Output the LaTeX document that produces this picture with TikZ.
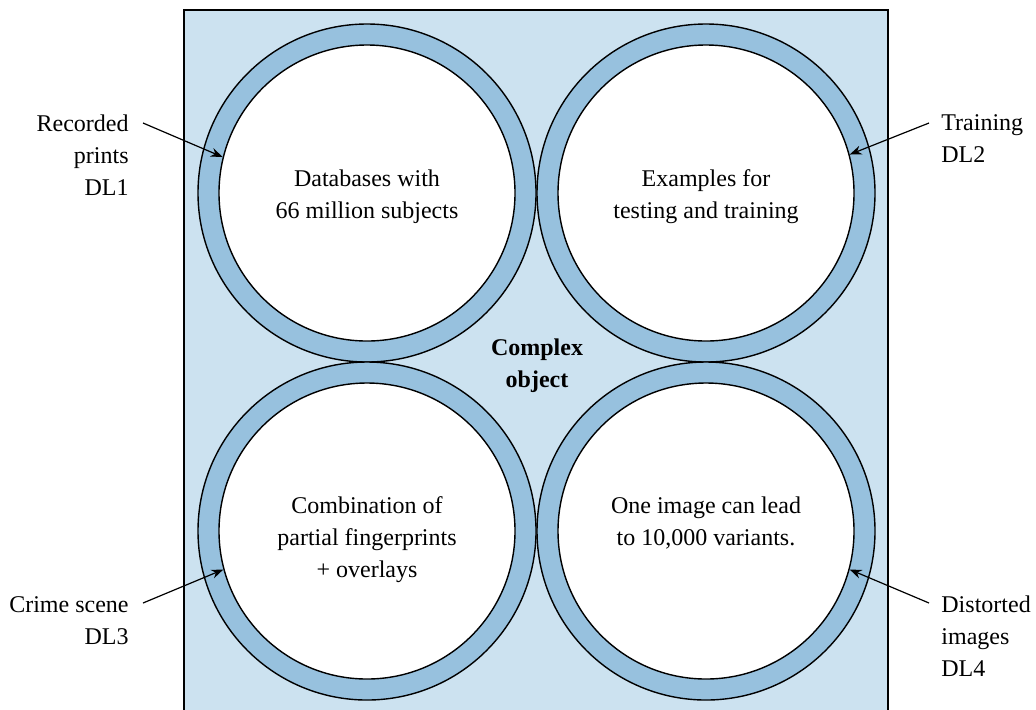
\documentclass[tikz,border=0pt]{standalone}
\usepackage{fontspec}
\setmainfont{Liberation Serif}
\usetikzlibrary{arrows.meta}
\definecolor{panel}{RGB}{204,226,240}
\definecolor{ringblue}{RGB}{151,193,222}

\begin{document}
\begin{tikzpicture}[x=0.5pt,y=-0.5pt,
  txt/.style={font=\fontsize{12}{16}\selectfont, inner sep=0pt, align=center},
  lblL/.style={txt, align=right, anchor=east},
  lblR/.style={txt, align=left, anchor=west},
  outerring/.style={circle, draw=black, line width=0.7pt, fill=ringblue, minimum size=169pt, inner sep=0pt},
  innerdisk/.style={circle, draw=black, line width=0.7pt, fill=white, minimum size=148pt, inner sep=0pt},
  pointer/.style={line width=0.6pt, -{Stealth[length=6pt,width=4.5pt]}}]
\useasboundingbox (0,0) rectangle (1036,709);

% panel behind the four rings
\fill[panel] (184,10) rectangle (888,720);
\draw[line width=0.7pt] (184,720) -- (184,10) -- (888,10) -- (888,720);

% four rings
\node[outerring] (o1) at (367,193) {};
\node[innerdisk] (in1) at (367,193) {};
\node[outerring] (o2) at (706,193) {};
\node[innerdisk] (in2) at (706,193) {};
\node[outerring] (o3) at (367,531) {};
\node[innerdisk] (in3) at (367,531) {};
\node[outerring] (o4) at (706,531) {};
\node[innerdisk] (in4) at (706,531) {};

% ring contents
\node[txt] (t1) at (367,197) {Databases with\\66 million subjects};
\node[txt] (t2) at (706,197) {Examples for\\testing and training};
\node[txt] (t3) at (367,540) {Combination of\\partial fingerprints\\+ overlays};
\node[txt] (t4) at (706,523) {One image can lead\\to 10,000 variants.};

\node[txt, font=\fontsize{12}{16}\selectfont\bfseries] (core) at (537,366) {Complex\\object};

% outside labels
\node[lblL] (l1) at (129,155) {Recorded\\prints\\DL1};
\node[lblR] (l2) at (941,139) {Training\\DL2};
\node[lblL] (l3) at (129,621) {Crime scene\\DL3};
\node[lblR] (l4) at (941,636) {Distorted\\images\\DL4};

% pointer tails
\coordinate (p1) at (143,123);
\coordinate (p2) at (929,123);
\coordinate (p3) at (143,603);
\coordinate (p4) at (929,603);

\draw[pointer] (p1) -- (in1.166);
\draw[pointer] (p2) -- (in2.15);
\draw[pointer] (p3) -- (in3.195);
\draw[pointer] (p4) -- (in4.345);
\end{tikzpicture}
\end{document}
